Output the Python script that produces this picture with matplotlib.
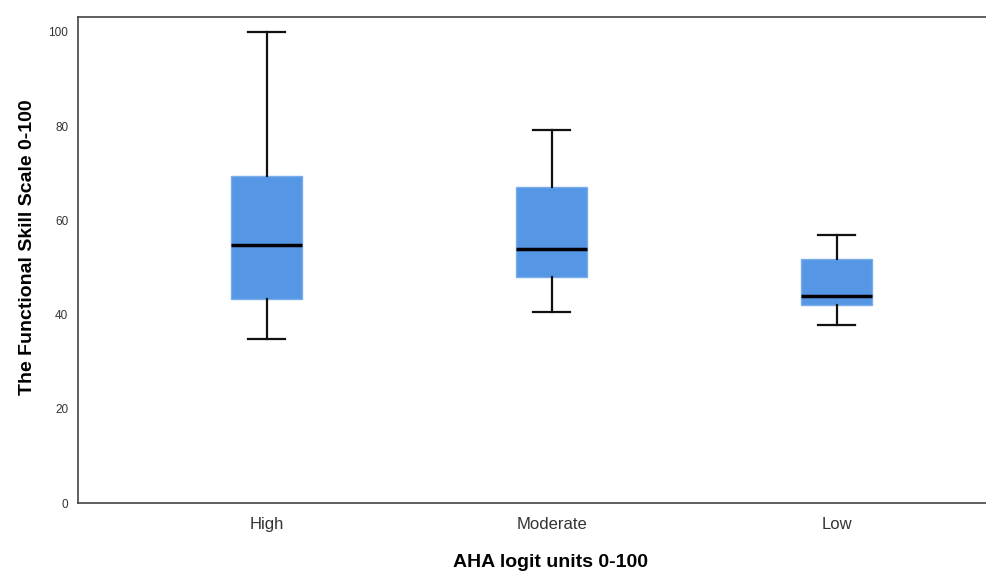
import matplotlib.pyplot as plt

plt.rcParams['font.family'] = ['Liberation Sans', 'DejaVu Sans']

groups = ["High", "Moderate", "Low"]
whislo = [34.8, 40.6, 37.8]
q1 = [43.3, 48.0, 42.0]
med = [54.8, 53.9, 43.9]
q3 = [69.4, 67.1, 51.8]
whishi = [100.0, 79.2, 56.9]

stats = []
for i, g in enumerate(groups):
    stats.append({"label": g, "whislo": whislo[i], "q1": q1[i], "med": med[i],
                  "q3": q3[i], "whishi": whishi[i], "fliers": []})

fig = plt.figure(figsize=(9.87, 5.72), dpi=100)
ax = fig.add_axes([0.079, 0.1206, 0.960, 0.850])

ax.bxp(stats, positions=[1, 2, 3], widths=0.25, patch_artist=True,
       showfliers=False,
       boxprops=dict(facecolor="#5596e5", edgecolor="#7aaeea", linewidth=1),
       medianprops=dict(color="black", linewidth=2.5),
       whiskerprops=dict(color="#111111", linewidth=1.6),
       capprops=dict(color="#111111", linewidth=1.6),
       capwidths=0.13)

ax.set_xlim(0.337, 3.663)
ax.set_ylim(0, 103.2)
ax.set_yticks([0, 20, 40, 60, 80, 100])
ax.tick_params(axis="y", length=0, pad=7, labelsize=8.5, labelcolor="#333333")
ax.tick_params(axis="x", length=0, pad=10, labelsize=12, labelcolor="#333333")

for s in ax.spines.values():
    s.set_color("#444444")
    s.set_linewidth(1.2)

ax.set_xlabel("AHA logit units 0-100", fontsize=14, fontweight="bold")
ax.set_ylabel("The Functional Skill Scale 0-100", fontsize=14, fontweight="bold")
ax.xaxis.set_label_coords(0.499, -0.105)
ax.yaxis.set_label_coords(-0.0443, 0.527)

fig.savefig("out.png", dpi=100)
